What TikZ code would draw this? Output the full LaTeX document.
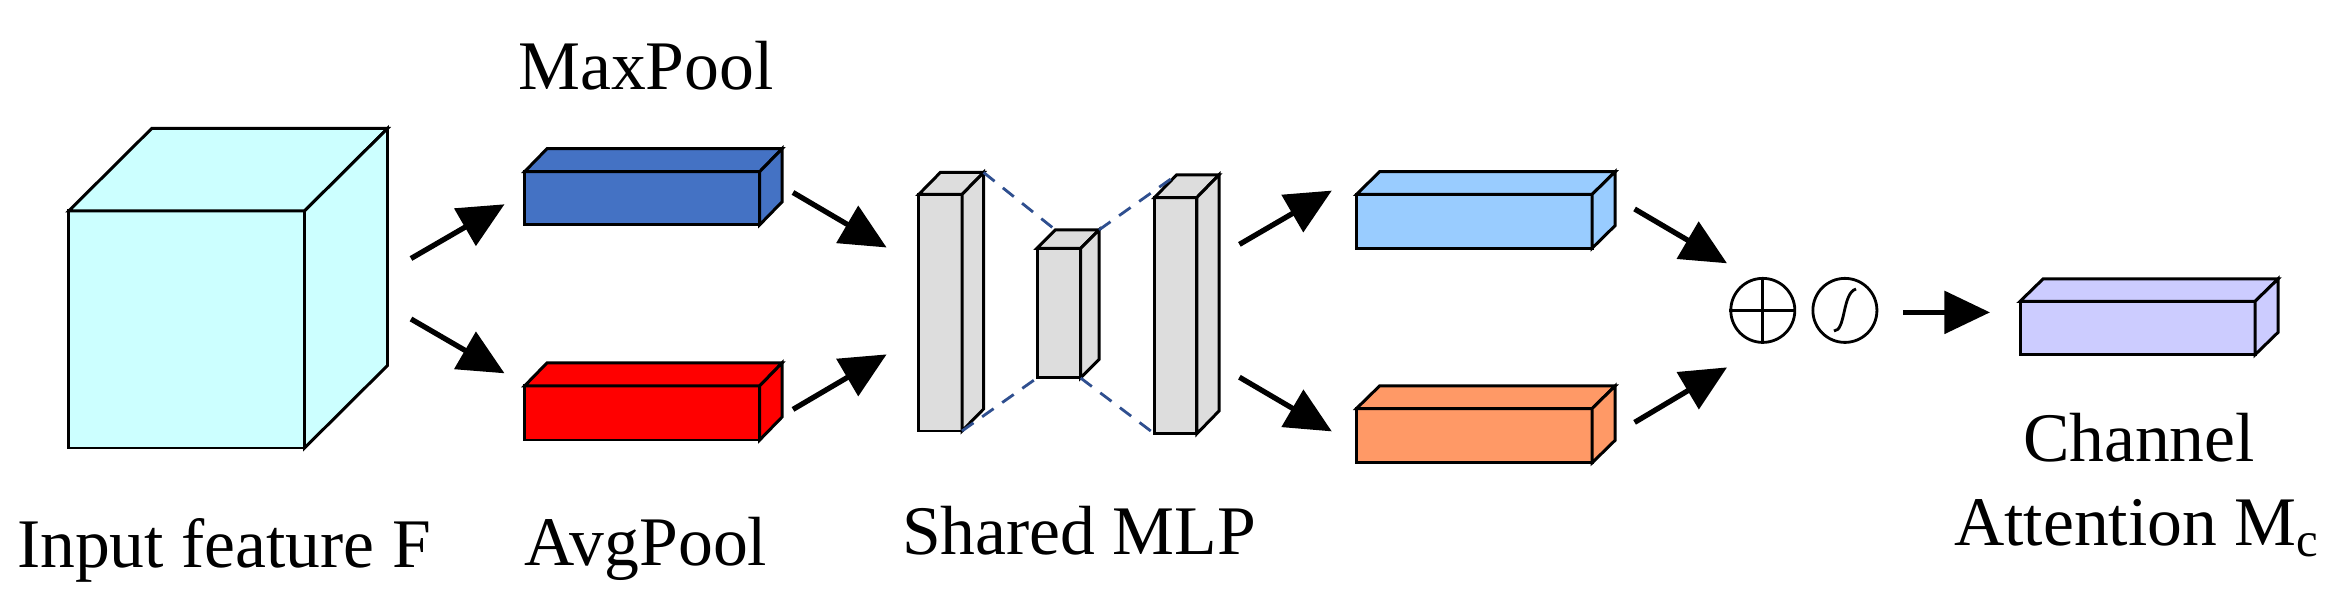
\documentclass[tikz,border=0pt]{standalone}
\usepackage{fontspec}
\setmainfont{Liberation Serif}
\usetikzlibrary{arrows.meta}
\definecolor{cCube}{HTML}{CCFFFF}
\definecolor{cMax}{HTML}{4472C4}
\definecolor{cAvg}{HTML}{FF0000}
\definecolor{cBar}{HTML}{DDDDDD}
\definecolor{cB1}{HTML}{99CCFF}
\definecolor{cB2}{HTML}{FF9966}
\definecolor{cOut}{HTML}{CCCCFF}
\definecolor{cDash}{HTML}{2F4F8F}
\newcommand\mycuboid[7]{% x1,y1,x2,y2,dx,dy,color
  \draw[box,fill=#7] (#1,#2) rectangle (#3,#4);
  \draw[box,fill=#7] (#1,#2) -- ++(#5,-#6) -- ++(#3-#1,0) -- (#3,#2) -- cycle;
  \draw[box,fill=#7] (#3,#2) -- ++(#5,-#6) -- ++(0,#4-#2) -- (#3,#4) -- cycle;}
\begin{document}
\begin{tikzpicture}[x=0.01cm,y=-0.01cm,
  box/.style={line width=0.85pt,line join=miter},
  arr/.style={line width=1.5pt,-{Triangle[length=13pt,width=12pt]}},
  lab/.style={font=\fontsize{19.8}{23}\selectfont,inner sep=0pt,anchor=base},
  dsh/.style={cDash,line width=0.8pt,dash pattern=on 4pt off 3pt}]
\useasboundingbox (0,0) rectangle (2339,616);
% cuboids
\mycuboid{68.7}{211}{304.5}{448}{83}{82.5}{cCube}
\mycuboid{524.6}{171.7}{759.7}{224.8}{22.4}{23}{cMax}
\mycuboid{524.6}{385.9}{759.7}{440}{22.4}{23}{cAvg}
\mycuboid{918.7}{194.5}{962}{431}{21.6}{22}{cBar}
\mycuboid{1037}{248.3}{1080.6}{378}{18.4}{18.4}{cBar}
\mycuboid{1154.5}{197.6}{1196.8}{433.8}{22.2}{22.8}{cBar}
\mycuboid{1356.4}{194.5}{1592}{248.3}{23.2}{22.8}{cB1}
\mycuboid{1356.4}{408.6}{1592}{462.9}{23.2}{22.7}{cB2}
\mycuboid{2020}{301.4}{2255}{354.8}{23}{22.4}{cOut}
% dashed MLP links
\draw[dsh] (983.6,172.5) -- (1055.4,229.9);
\draw[dsh] (1099,229.9) -- (1176.7,174.8);
\draw[dsh] (962,431) -- (1037,378);
\draw[dsh] (1080.6,378) -- (1154.5,433.8);
% arrow endpoints
\coordinate (a1s) at (411,258.5); \coordinate (a1e) at (504.5,204.3);
\coordinate (a2s) at (411,319); \coordinate (a2e) at (504.5,373.3);
\coordinate (a3s) at (793,192.5); \coordinate (a3e) at (886.6,247.5);
\coordinate (a4s) at (793,409.4); \coordinate (a4e) at (886.6,354.4);
\coordinate (a5s) at (1239.4,244.4); \coordinate (a5e) at (1331.8,190.6);
\coordinate (a6s) at (1239.4,377.2); \coordinate (a6e) at (1331.8,431.4);
\coordinate (a7s) at (1634.6,209); \coordinate (a7e) at (1727,263.3);
\coordinate (a8s) at (1634.6,422.4); \coordinate (a8e) at (1727,367.4);
\coordinate (a9s) at (1903,312.4); \coordinate (a9e) at (1990,312.4);
\foreach \i in {1,...,9} \draw[arr] (a\i s) -- (a\i e);
% plus and sigmoid
\node[circle,draw,line width=0.8pt,minimum size=0.64cm,inner sep=0pt] (sum) at (1762.8,310.4) {};
\draw[line width=0.8pt] (sum.north) -- (sum.south) (sum.west) -- (sum.east);
\node[circle,draw,line width=0.8pt,minimum size=0.64cm,inner sep=0pt] (sig) at (1844.9,310.4) {};
\draw[line width=0.8pt] (1834,331) .. controls (1846,331) and (1842,293) .. (1856,289);
% labels
\node[lab] (tin) at (224,567.8) {Input feature F};
\node[lab] (tmax) at (646,89.6) {MaxPool};
\node[lab] (tavg) at (646,565.8) {AvgPool};
\node[lab] (tmlp) at (1079,555) {Shared MLP};
\node[lab] (tch) at (2139,461.7) {Channel};
\node[lab] (tatt) at (2137,545.4) {Attention M\textsubscript{c}};
\end{tikzpicture}
\end{document}
